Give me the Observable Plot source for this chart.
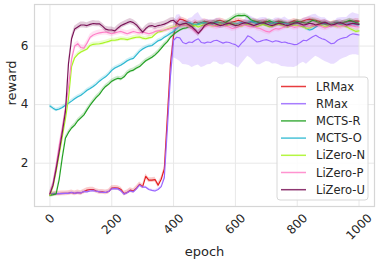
<!DOCTYPE html>
<html>
<head>
<meta charset="utf-8">
<script src="https://cdn.jsdelivr.net/npm/d3@7"></script>
<script src="https://cdn.jsdelivr.net/npm/@observablehq/plot@0.6"></script>
<style>
  html, body { margin: 0; padding: 0; background: #fff; }
  #chart { width: 382px; height: 267px; }
</style>
</head>
<body>
<div id="chart"></div>
<script>
const epochs = [0,10,20,30,40,50,60,70,80,90,100,110,120,130,140,150,160,170,180,190,200,210,220,230,240,250,260,270,280,290,300,310,320,330,340,350,360,370,380,390,400,410,420,430,440,450,460,470,480,490,500,510,520,530,540,550,560,570,580,590,600,610,620,630,640,650,660,670,680,690,700,710,720,730,740,750,760,770,780,790,800,810,820,830,840,850,860,870,880,890,900,910,920,930,940,950,960,970,980,990,1000];

const seriesNames = ["LRMax", "RMax", "MCTS-R", "MCTS-O", "LiZero-N", "LiZero-P", "LiZero-U"];
const seriesColors = ["#e41a1c", "#9966ff", "#22a022", "#2ab7d0", "#a8f522", "#ff80c8", "#7a1458"];

const lrmax = [0.95,0.95,0.96,0.96,0.97,0.97,0.98,1.00,0.97,1.00,
  0.98,1.03,1.08,1.10,1.10,1.05,1.02,1.02,1.00,1.03,
  1.15,1.16,1.15,1.10,0.96,1.00,1.08,1.05,1.15,1.28,
  1.20,1.55,1.42,1.42,1.44,1.25,1.45,1.80,3.60,5.40,
  6.35,6.80,6.92,6.90,6.85,6.80,6.75,6.82,6.78,6.80,
  6.85,6.82,6.78,6.80,6.86,6.88,6.85,6.80,6.78,6.82,
  6.85,6.88,6.85,6.80,6.78,6.82,6.86,6.84,6.80,6.82,
  6.85,6.80,6.76,6.82,6.85,6.82,6.80,6.78,6.82,6.86,
  6.84,6.82,6.86,6.90,6.92,6.90,6.88,6.85,6.80,6.82,
  6.78,6.75,6.80,6.78,6.75,6.80,6.82,6.85,6.84,6.86,6.85];

const rmax = [0.95,0.95,0.95,0.96,0.96,0.97,0.97,1.00,0.97,0.99,
  0.98,1.03,1.02,1.05,1.06,1.04,1.02,1.00,1.00,1.03,
  1.12,1.13,1.12,1.05,0.94,0.99,1.05,1.02,1.12,1.25,
  1.18,1.18,1.10,1.07,1.05,1.10,1.20,1.50,3.20,5.00,
  6.20,6.30,6.28,6.12,6.08,6.14,6.12,6.20,6.25,6.12,
  6.10,6.14,6.12,6.18,6.20,6.15,6.10,6.14,6.12,6.08,
  6.05,5.97,6.10,6.20,6.35,6.30,6.22,6.14,6.16,6.20,
  6.22,6.18,6.14,6.18,6.16,6.12,6.14,6.10,6.08,6.05,
  6.06,6.12,6.20,6.18,6.25,6.32,6.37,6.30,6.25,6.22,
  6.15,6.08,6.10,6.20,6.25,6.28,6.30,6.38,6.42,6.40,6.38];

const rmaxSpread = [0.04,0.04,0.04,0.04,0.04,0.04,0.04,0.04,0.04,0.04,
  0.04,0.04,0.04,0.04,0.04,0.04,0.04,0.04,0.04,0.04,
  0.04,0.04,0.04,0.04,0.04,0.04,0.04,0.04,0.04,0.04,
  0.04,0.04,0.04,0.04,0.04,0.04,0.04,0.08,0.20,0.40,
  0.60,0.75,0.80,0.75,0.72,0.80,0.85,0.88,0.90,0.85,
  0.80,0.78,0.75,0.72,0.75,0.78,0.75,0.72,0.70,0.72,
  0.75,0.72,0.70,0.68,0.70,0.72,0.75,0.78,0.80,0.78,
  0.75,0.72,0.75,0.78,0.80,0.82,0.85,0.82,0.80,0.78,
  0.75,0.72,0.75,0.80,0.78,0.75,0.72,0.70,0.72,0.75,
  0.72,0.70,0.72,0.75,0.72,0.70,0.68,0.70,0.72,0.70,0.70];

const mctsR = [0.90,0.92,0.95,1.45,2.20,2.85,3.05,3.20,3.30,3.45,
  3.55,3.65,3.82,3.98,4.12,4.25,4.35,4.50,4.62,4.70,
  4.80,4.86,4.90,4.88,4.95,5.08,5.15,5.18,5.25,5.30,
  5.40,5.50,5.56,5.62,5.70,5.80,5.92,6.05,6.15,6.30,
  6.40,6.48,6.55,6.60,6.62,6.65,6.68,6.72,6.75,6.78,
  6.80,6.78,6.75,6.80,6.82,6.80,6.78,6.82,6.88,6.95,
  7.02,7.05,7.04,7.05,7.00,6.90,6.85,6.82,6.80,6.78,
  6.82,6.86,6.82,6.78,6.80,6.82,6.78,6.75,6.78,6.80,
  6.85,6.82,6.80,6.78,6.82,6.88,6.85,6.80,6.78,6.75,
  6.72,6.75,6.78,6.80,6.76,6.80,6.84,6.88,6.85,6.80,6.78];

const mctsO = [3.95,3.88,3.82,3.85,3.90,3.98,4.05,4.12,4.20,4.27,
  4.32,4.40,4.49,4.55,4.62,4.70,4.80,4.88,4.95,5.05,
  5.17,5.25,5.30,5.35,5.42,5.50,5.55,5.58,5.70,5.82,
  5.90,5.96,6.00,6.02,6.10,6.18,6.22,6.30,6.36,6.44,
  6.50,6.60,6.70,6.75,6.78,6.80,6.76,6.72,6.75,6.78,
  6.80,6.76,6.72,6.76,6.80,6.78,6.75,6.72,6.76,6.78,
  6.75,6.78,6.80,6.76,6.80,6.84,6.80,6.76,6.78,6.75,
  6.72,6.76,6.78,6.80,6.76,6.74,6.78,6.75,6.72,6.75,
  6.78,6.75,6.68,6.60,6.55,6.58,6.65,6.72,6.75,6.78,
  6.76,6.74,6.76,6.78,6.75,6.72,6.75,6.78,6.76,6.74,6.72];

const lizeroN = [0.90,1.20,1.70,2.30,2.90,3.50,4.20,5.30,5.60,5.72,
  5.80,5.85,5.90,6.02,6.06,6.07,6.08,6.10,6.13,6.16,
  6.20,6.20,6.22,6.25,6.24,6.22,6.25,6.28,6.30,6.31,
  6.27,6.25,6.28,6.30,6.40,6.48,6.50,6.54,6.58,6.62,
  6.65,6.68,6.70,6.72,6.72,6.70,6.68,6.70,6.65,6.70,
  6.72,6.74,6.70,6.68,6.72,6.75,6.72,6.70,6.74,6.76,
  6.72,6.70,6.68,6.72,6.75,6.72,6.70,6.66,6.70,6.74,
  6.70,6.66,6.68,6.72,6.75,6.72,6.68,6.65,6.70,6.72,
  6.70,6.68,6.65,6.60,6.62,6.68,6.72,6.75,6.70,6.66,
  6.68,6.72,6.70,6.66,6.68,6.70,6.66,6.60,6.55,6.50,6.52];

const lizeroP = [0.95,1.30,1.90,2.60,3.20,3.85,4.60,5.55,6.00,6.08,
  5.95,5.93,6.10,6.30,6.38,6.42,6.45,6.47,6.48,6.45,
  6.42,6.45,6.48,6.50,6.46,6.42,6.46,6.50,6.47,6.45,
  6.48,6.45,6.42,6.45,6.50,6.52,6.54,6.55,6.57,6.60,
  6.62,6.65,6.70,6.72,6.70,6.65,6.60,6.50,6.45,6.55,
  6.65,6.70,6.72,6.68,6.66,6.70,6.72,6.68,6.65,6.60,
  6.62,6.66,6.70,6.72,6.68,6.65,6.68,6.62,6.60,6.55,
  6.50,6.48,6.55,6.60,6.58,6.62,6.66,6.70,6.68,6.64,
  6.66,6.70,6.72,6.68,6.66,6.70,6.72,6.70,6.66,6.62,
  6.65,6.70,6.72,6.68,6.66,6.70,6.72,6.70,6.68,6.66,6.65];

const lizeroU = [0.95,1.25,1.80,2.40,3.05,3.75,5.40,6.25,6.58,6.65,
  6.72,6.72,6.70,6.74,6.77,6.76,6.76,6.68,6.58,6.55,
  6.55,6.52,6.62,6.70,6.75,6.80,6.84,6.80,6.72,6.60,
  6.48,6.60,6.68,6.70,6.66,6.70,6.72,6.75,6.80,6.86,
  6.88,6.78,6.72,6.76,6.78,6.72,6.65,6.55,6.43,6.55,
  6.70,6.76,6.80,6.78,6.74,6.70,6.72,6.76,6.78,6.74,
  6.70,6.72,6.76,6.80,6.78,6.74,6.70,6.74,6.78,6.80,
  6.76,6.72,6.70,6.74,6.78,6.76,6.72,6.70,6.74,6.78,
  6.80,6.76,6.72,6.74,6.78,6.76,6.72,6.75,6.78,6.80,
  6.76,6.72,6.74,6.78,6.80,6.76,6.72,6.75,6.78,6.76,6.74];

const seriesSpread = [0.08, null, 0.07, 0.06, 0.07, 0.10, 0.10];
const xTicks = [0, 200, 400, 600, 800, 1000];
const yTicks = [2, 4, 6];
const xLabel = "epoch";
const yLabel = "reward";

const seriesValues = [lrmax, rmax, mctsR, mctsO, lizeroN, lizeroP, lizeroU];

const rows = [];
seriesNames.forEach((name, k) => {
  seriesValues[k].forEach((v, i) => {
    const s = seriesSpread[k] === null ? rmaxSpread[i] : seriesSpread[k];
    rows.push({series: name, epoch: epochs[i], value: v, lo: v - s, hi: v + s});
  });
});

const bandMarks = [];
seriesNames.forEach((name, k) => {
  const d = rows.filter(r => r.series === name);
  bandMarks.push(Plot.areaY(d, {x: "epoch", y1: "lo", y2: "hi", fill: seriesColors[k], fillOpacity: 0.22, clip: true}));
  bandMarks.push(Plot.lineY(d, {x: "epoch", y: "value", stroke: seriesColors[k], strokeWidth: 1.15, clip: true}));
});

const chart = Plot.plot({
  width: 382,
  height: 267,
  marginLeft: 34,
  marginRight: 8,
  marginTop: 4,
  marginBottom: 61,
  style: {fontFamily: "DejaVu Sans", color: "#262626", background: "white"},
  x: {domain: [-50, 1050]},
  y: {domain: [0.52, 7.42]},
  marks: [
    Plot.gridX(xTicks, {stroke: "#e8e8e8", strokeOpacity: 1, strokeWidth: 1}),
    Plot.gridY(yTicks, {stroke: "#e8e8e8", strokeOpacity: 1, strokeWidth: 1}),
    ...bandMarks,
    Plot.frame({stroke: "#d6d6d6", strokeWidth: 1.2}),
    Plot.axisX(xTicks, {tickSize: 0, tickRotate: -45, textAnchor: "middle", lineAnchor: "middle", tickPadding: 0, fontSize: 12, label: null, tickFormat: d => String(d)}),
    Plot.axisY(yTicks, {tickSize: 0, tickPadding: 6, fontSize: 12, label: null, tickFormat: d => String(d)}),
    Plot.text([xLabel], {frameAnchor: "bottom", dy: 49, fontSize: 13, fill: "#262626"}),
    Plot.text([yLabel], {frameAnchor: "left", dx: -23, rotate: -90, fontSize: 13, fill: "#262626"})
  ]
});

document.getElementById("chart").append(chart);

// position rotated tick labels like centered, top-aligned rotated text
const svgRect = chart.getBoundingClientRect();
d3.select(chart).selectAll('g[aria-label="x-axis tick label"] text').each(function() {
  const r = this.getBoundingClientRect();
  const top = r.top - svgRect.top;
  const shift = 211 - top;
  const t = this.getAttribute("transform") || "";
  this.setAttribute("transform", `translate(0,${shift}) ` + t);
});

// legend
const svg = d3.select(chart);
const lg = svg.append("g").attr("font-family", "DejaVu Sans").attr("font-size", 11.5).attr("text-anchor", "start");
lg.append("rect").attr("x", 277).attr("y", 77).attr("width", 91).attr("height", 123)
  .attr("rx", 3).attr("fill", "white").attr("fill-opacity", 0.85).attr("stroke", "#d8d8d8");
seriesNames.forEach((name, k) => {
  const yy = 86.5 + k * 17.2;
  lg.append("line").attr("x1", 281).attr("x2", 306).attr("y1", yy).attr("y2", yy)
    .attr("stroke", seriesColors[k]).attr("stroke-width", 1.5).attr("stroke-opacity", 0.85);
  lg.append("text").attr("x", 316).attr("y", yy).attr("dy", "0.35em").attr("text-anchor", "start").attr("fill", "#262626").text(name);
});
</script>
</body>
</html>
